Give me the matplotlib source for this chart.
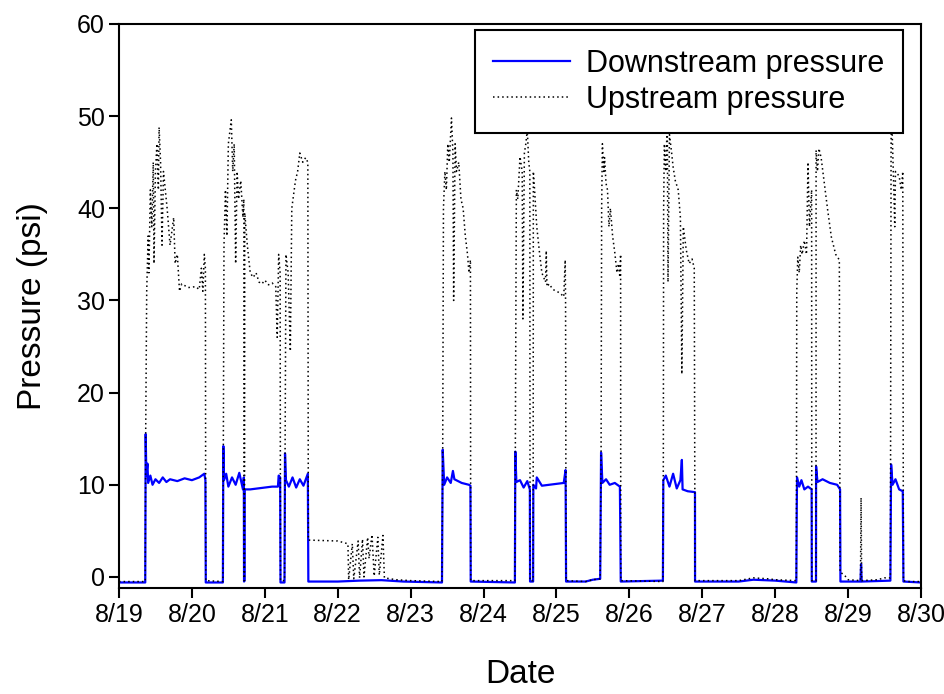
import numpy as np
import matplotlib
matplotlib.use('Agg')
import matplotlib.pyplot as plt

plt.rcParams['font.family'] = ['Liberation Sans', 'DejaVu Sans']

# time in days after 8/19 00:00, pressure in psi
down_t = [0.00, 0.36, 0.366, 0.375, 0.39, 0.40, 0.43, 0.46, 0.50, 0.55, 0.60, 0.65, 0.70, 0.80, 0.90,
          1.00, 1.10, 1.17, 1.185, 1.19,
          1.425, 1.431, 1.44, 1.47, 1.50, 1.55, 1.60, 1.65, 1.70, 1.712, 1.715, 1.722, 1.725, 1.80, 1.90,
          2.00, 2.10, 2.18, 2.19, 2.21, 2.215,
          2.27, 2.277, 2.29, 2.33, 2.38, 2.43, 2.48, 2.53, 2.59, 2.597,
          3.00, 3.30, 3.60, 3.90, 4.43,
          4.44, 4.46, 4.50, 4.55, 4.58, 4.60, 4.70, 4.80, 4.82, 4.824,
          5.43, 5.436, 5.45, 5.50, 5.55, 5.60, 5.635, 5.638, 5.68, 5.683, 5.72, 5.73, 5.80, 5.90,
          6.00, 6.10, 6.125, 6.132,
          6.40, 6.50, 6.60, 6.612, 6.63, 6.68, 6.73, 6.80, 6.87, 6.882,
          7.40, 7.46, 7.466, 7.50, 7.55, 7.60, 7.65, 7.70, 7.72, 7.73, 7.80, 7.90, 7.901,
          8.50, 8.70, 9.00, 9.29,
          9.296, 9.30, 9.33, 9.36, 9.40, 9.45, 9.50, 9.502, 9.56, 9.561, 9.58, 9.65, 9.75, 9.85, 9.89, 9.895,
          10.17, 10.178, 10.186, 10.58,
          10.59, 10.61, 10.65, 10.70, 10.75, 10.759, 11.00]
down_p = [-0.6, -0.6, 15.5, 11.0, 12.3, 10.2, 11.0, 10.0, 10.6, 10.2, 10.8, 10.3, 10.6, 10.4, 10.7,
          10.5, 10.8, 11.2, 10.5, -0.6,
          -0.6, 14.2, 10.5, 11.2, 9.8, 10.8, 10.0, 11.3, 9.5, 10.8, -0.5, -0.4, 9.5, 9.5, 9.6,
          9.7, 9.8, 9.8, 11.0, 10.8, -0.6,
          -0.6, 13.4, 10.5, 9.8, 10.8, 9.7, 10.6, 9.9, 11.2, -0.5,
          -0.5, -0.4, -0.35, -0.5, -0.6,
          13.8, 10.0, 10.8, 10.2, 11.5, 10.6, 10.2, 10.0, 9.9, -0.5,
          -0.6, 13.6, 10.3, 10.5, 9.7, 10.4, 9.5, -0.5, -0.5, 10.0, 9.6, 10.8, 9.9, 10.0,
          10.1, 10.2, 11.6, -0.5,
          -0.5, -0.3, -0.2, 13.5, 10.2, 10.6, 10.0, 10.2, 9.8, -0.5,
          -0.4, -0.4, 10.5, 11.0, 9.8, 11.2, 9.6, 10.5, 12.7, 9.5, 9.3, 9.2, -0.5,
          -0.5, -0.3, -0.4, -0.6,
          7.5, 10.8, 9.8, 10.5, 9.5, 9.8, 9.5, -0.5, -0.5, 12.0, 10.3, 10.6, 10.2, 10.0, 9.5, -0.5,
          -0.5, 1.4, -0.5, -0.4,
          12.2, 10.0, 10.6, 9.5, 9.3, -0.5, -0.6]

up_t = [0.00, 0.36, 0.366, 0.38, 0.40, 0.41, 0.43, 0.45, 0.47, 0.48, 0.50, 0.52, 0.54, 0.55, 0.57, 0.59,
        0.61, 0.66, 0.70, 0.75, 0.77, 0.80, 0.83, 0.86, 0.95, 1.05, 1.10, 1.13, 1.15, 1.17, 1.185, 1.19,
        1.425, 1.431, 1.44, 1.46, 1.48, 1.50, 1.54, 1.56, 1.58, 1.60, 1.62, 1.64, 1.67, 1.70, 1.712,
        1.715, 1.722, 1.725, 1.76, 1.80, 1.84, 1.88, 1.92, 1.96, 2.00, 2.05, 2.10, 2.15, 2.17, 2.19,
        2.21, 2.215,
        2.27, 2.277, 2.29, 2.32, 2.35, 2.37, 2.42, 2.45, 2.48, 2.52, 2.56, 2.59, 2.597,
        3.00, 3.14, 3.15, 3.20, 3.22, 3.28, 3.30, 3.34, 3.36, 3.41, 3.43, 3.47, 3.50, 3.55, 3.57,
        3.62, 3.64, 3.80, 4.00, 4.43,
        4.44, 4.45, 4.47, 4.49, 4.51, 4.53, 4.56, 4.58, 4.59, 4.61, 4.63, 4.66, 4.69, 4.72, 4.75,
        4.78, 4.80, 4.82, 4.824,
        5.43, 5.436, 5.45, 5.47, 5.50, 5.53, 5.54, 5.56, 5.58, 5.60, 5.62, 5.635, 5.638, 5.68,
        5.683, 5.70, 5.73, 5.77, 5.80, 5.85, 5.86, 5.87, 5.90, 5.95, 6.00, 6.05, 6.10, 6.12, 6.125, 6.132,
        6.40, 6.50, 6.60,
        6.612, 6.62, 6.63, 6.65, 6.66, 6.68, 6.70, 6.72, 6.74, 6.77, 6.80, 6.83, 6.85, 6.87, 6.88,
        6.882,
        7.46, 7.466, 7.47, 7.48, 7.50, 7.52, 7.53, 7.55, 7.58, 7.60, 7.63, 7.67, 7.70, 7.72, 7.74,
        7.78, 7.82, 7.86, 7.89, 7.901,
        8.50, 8.70, 8.90, 9.00, 9.29,
        9.296, 9.31, 9.33, 9.35, 9.37, 9.40, 9.43, 9.45, 9.47, 9.50, 9.502, 9.56, 9.561, 9.58, 9.60,
        9.63, 9.67, 9.72, 9.77, 9.83, 9.88, 9.89, 9.895, 9.95, 10.00, 10.17, 10.178, 10.186, 10.40,
        10.50, 10.58,
        10.59, 10.60, 10.62, 10.64, 10.65, 10.67, 10.70, 10.73, 10.75, 10.759, 10.80, 11.00]
up_p = [-0.5, -0.5, 15.5, 31.0, 37.0, 33.0, 42.0, 38.0, 45.0, 34.0, 44.0, 47.0, 42.0, 48.8, 45.0, 36.0,
        44.0, 40.0, 36.0, 39.0, 34.0, 35.0, 31.0, 31.8, 31.4, 31.5, 31.2, 33.5, 31.0, 35.0, 33.5, -0.4,
        -0.5, 14.0, 36.0, 42.0, 37.0, 47.0, 49.6, 44.0, 47.0, 34.0, 44.0, 41.0, 43.0, 39.0, 41.0,
        -0.4, -0.4, 39.5, 36.0, 33.0, 32.5, 33.0, 32.0, 31.8, 32.2, 31.7, 31.9, 31.5, 26.0, 35.0,
        33.0, -0.4,
        -0.4, 13.0, 35.0, 33.0, 24.5, 40.0, 43.0, 44.0, 46.0, 45.0, 45.5, 45.0, 4.0,
        3.9, 3.6, -0.3, 3.6, -0.2, 3.9, -0.1, 4.1, 0.0, 4.3, 2.0, 4.6, 0.1, 4.3, 0.2,
        4.5, -0.1, -0.3, -0.4, -0.5,
        14.0, 40.0, 44.0, 42.0, 47.0, 45.0, 49.8, 46.0, 30.0, 47.0, 44.0, 45.0, 41.0, 40.0, 37.0,
        35.0, 33.0, 34.4, -0.4,
        -0.4, 13.6, 42.0, 41.0, 45.6, 44.0, 28.0, 46.0, 47.0, 48.5, 45.0, 44.0, -0.4, -0.4,
        44.0, 42.0, 38.0, 35.0, 33.0, 32.0, 35.4, 31.5, 31.8, 31.2, 31.0, 30.8, 30.4, 34.4, 30.0, -0.4,
        -0.5, -0.3, -0.2,
        13.5, 40.0, 47.0, 44.0, 45.5, 42.7, 42.0, 38.0, 40.0, 37.0, 35.2, 33.0, 34.0, 32.5, 35.0,
        -0.4,
        -0.5, 13.0, 40.0, 47.0, 44.0, 49.5, 32.0, 48.0, 46.0, 44.5, 43.0, 42.0, 39.0, 22.0, 38.0,
        35.5, 34.0, 34.5, 33.5, -0.4,
        -0.4, -0.1, -0.2, -0.3, -0.4,
        31.0, 34.7, 33.0, 36.0, 35.0, 36.5, 35.0, 45.0, 38.0, 42.0, -0.4, -0.4, 46.3, 44.0, 46.5,
        45.5, 43.0, 39.8, 36.9, 35.0, 34.4, 0.5, 0.5, 0.2, -0.3, -0.4, 8.6, -0.4, -0.3,
        -0.1, -0.1,
        48.0, 49.5, 44.0, 38.0, 44.0, 43.8, 43.5, 42.0, 44.0, -0.4, -0.5, -0.5]

date_labels = ['8/19', '8/20', '8/21', '8/22', '8/23', '8/24', '8/25', '8/26', '8/27', '8/28', '8/29', '8/30']
y_ticks = [0, 10, 20, 30, 40, 50, 60]

fig = plt.figure(figsize=(9.44, 6.94), dpi=100)
ax = fig.add_axes([119 / 944, 1 - 588 / 694, 802 / 944, 564 / 694])

ax.plot(down_t, down_p, color='#0000ff', lw=1.6, label='Downstream pressure')
ax.plot(up_t, up_p, color='black', lw=1.1, linestyle=(0, (1, 2)), label='Upstream pressure')

ax.set_xlim(0, len(date_labels) - 1)
ax.set_ylim(-1.2, 60)
ax.set_xticks(np.arange(len(date_labels)))
ax.set_xticklabels(date_labels)
ax.set_yticks(y_ticks)
ax.tick_params(axis='both', direction='out', length=7, width=1.5, labelsize=18,
               top=False, right=False)
ax.tick_params(axis='x', pad=4)
ax.tick_params(axis='y', pad=3)
for s in ax.spines.values():
    s.set_linewidth(1.5)

ax.set_xlabel('Date', fontsize=24, labelpad=23)
ax.set_ylabel('Pressure (psi)', fontsize=24, labelpad=21)

leg = ax.legend(loc='upper right', bbox_to_anchor=(0.9776, 0.989), borderaxespad=0,
                fontsize=22, fancybox=False, framealpha=1, edgecolor='black',
                handlelength=2.5, handletextpad=0.55, labelspacing=0.2, borderpad=0.6)
leg.get_frame().set_linewidth(1.5)

fig.savefig('out.png', dpi=100)
